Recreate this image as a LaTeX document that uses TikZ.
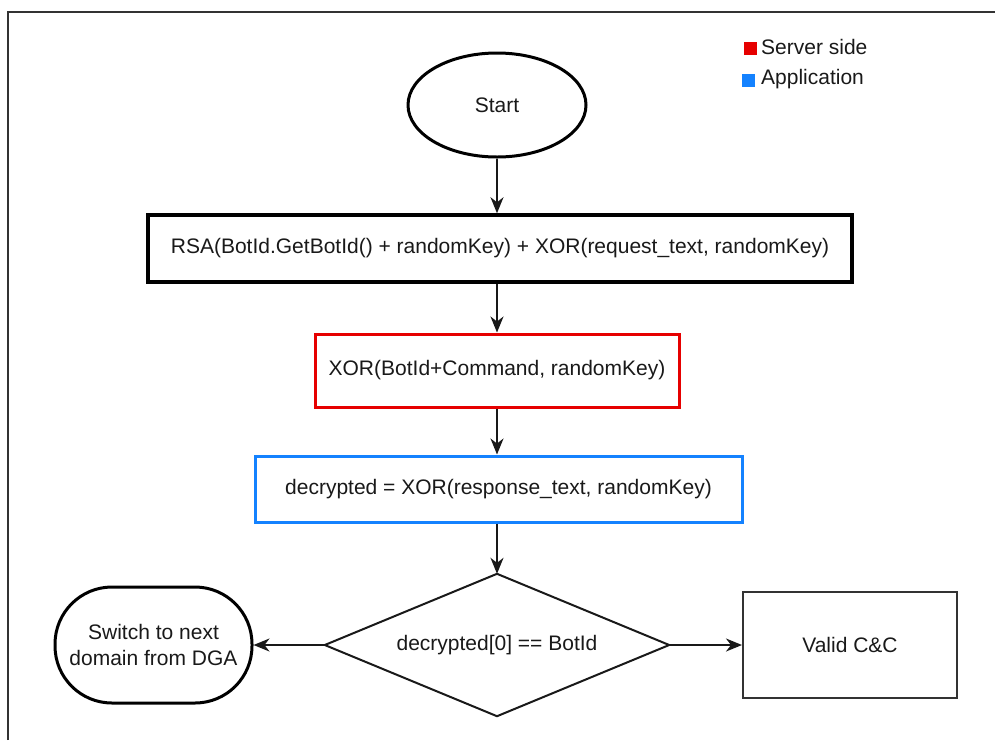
\documentclass[tikz,border=0pt]{standalone}
\usepackage{fontspec}
\setmainfont{Liberation Sans}
\usetikzlibrary{shapes.geometric,arrows.meta}
\definecolor{srvred}{RGB}{230,0,0}
\definecolor{appblue}{RGB}{20,130,255}
\definecolor{txtc}{RGB}{25,25,25}
\begin{document}
\begin{tikzpicture}[x=1pt,y=-1pt,
  every node/.style={font=\fontsize{21}{26}\selectfont, text=txtc, inner sep=0pt},
  boxed/.style={draw, rectangle},
  arr/.style={-{Stealth[length=16pt,width=13pt,inset=5pt]}, line width=1.8pt, black!90}]
\useasboundingbox (0,0) rectangle (995,740);
\draw[line width=1.6pt, black!80] (8,740) -- (8,12) -- (995,12);

\node[draw, ellipse, line width=3pt, minimum width=178pt, minimum height=104pt] (start) at (497,105) {Start};
\node[boxed, line width=3.5pt, minimum width=704pt, minimum height=67pt] (rsa) at (500,248.5) {RSA(BotId.GetBotId() + randomKey) + XOR(request\_text, randomKey)};
\node[boxed, draw=srvred, line width=3pt, minimum width=364pt, minimum height=73pt] (srv) at (497,370.5) {XOR(BotId+Command, randomKey)};
\node[boxed, draw=appblue, line width=3pt, minimum width=487pt, minimum height=66pt] (app) at (498.5,489) {decrypted = XOR(response\_text, randomKey)};
\node[rectangle, minimum width=344pt, minimum height=142pt] (dec) at (497,645) {decrypted[0] == BotId};
\draw[line width=2pt, black!90, line join=miter] (dec.north) -- (dec.east) -- (dec.south) -- (dec.west) -- cycle;
\node[draw, rectangle, rounded corners=57pt, line width=3pt, minimum width=197pt, minimum height=116pt, align=center] (next) at (153.5,645) {Switch to next\\domain from DGA};
\node[boxed, line width=2pt, draw=black!80, minimum width=214pt, minimum height=106pt] (valid) at (850,645) {Valid C\&C};

\draw[arr] (start.south) -- (start.south |- rsa.north);
\draw[arr] (srv.north |- rsa.south) -- (srv.north);
\draw[arr] (srv.south) -- (srv.south |- app.north);
\draw[arr] (app.south -| dec.north) -- (dec.north);
\draw[arr] (dec.west) -- (next.east);
\draw[arr] (dec.east) -- (valid.west);

\node[fill=srvred, minimum size=13pt] (lr) at (750,48.5) {};
\node[anchor=west] (lrt) at (761,46.5) {Server side};
\node[fill=appblue, minimum size=13pt] (lb) at (748,80) {};
\node[anchor=west] (lbt) at (761,79) {Application};
\end{tikzpicture}
\end{document}
